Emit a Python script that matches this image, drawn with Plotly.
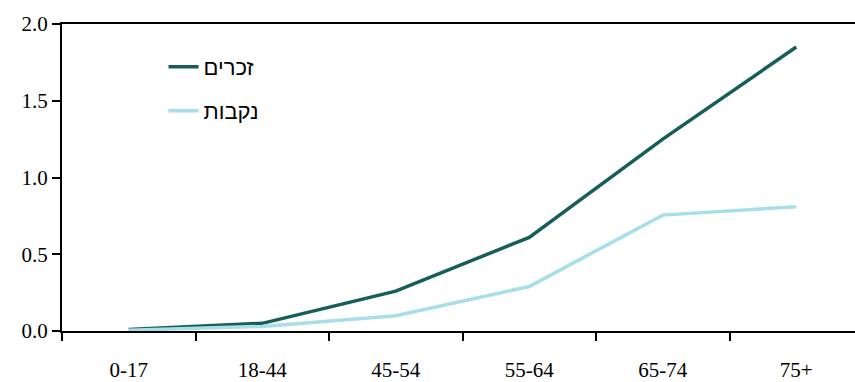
import plotly.graph_objects as go

categories = ["0-17", "18-44", "45-54", "55-64", "65-74", "75+"]
males = [0.01, 0.05, 0.26, 0.61, 1.25, 1.85]
females = [0.005, 0.03, 0.10, 0.29, 0.755, 0.81]
names = ["זכרים", "נקבות"]
y_ticks = [0.0, 0.5, 1.0, 1.5, 2.0]
y_labels = ["0.0", "0.5", "1.0", "1.5", "2.0"]

fig = go.Figure()
fig.add_trace(go.Scatter(x=categories, y=males, mode="lines", name=names[0],
                         line=dict(color="#175E58", width=3.5), legend="legend"))
fig.add_trace(go.Scatter(x=categories, y=females, mode="lines", name=names[1],
                         line=dict(color="#A8DEE7", width=3.5), legend="legend2"))

serif = "Liberation Serif, Times New Roman, serif"
legfont = dict(family="Liberation Sans, Arial, sans-serif", size=22, color="black")

fig.update_layout(
    width=855, height=382,
    margin=dict(l=62, r=0, t=24, b=51, autoexpand=False),
    paper_bgcolor="white", plot_bgcolor="white",
    font=dict(family=serif, size=21, color="black"),
    showlegend=True,
    legend=dict(x=0.128, y=0.86, xanchor="left", yanchor="middle", font=legfont,
                bgcolor="rgba(0,0,0,0)"),
    legend2=dict(x=0.128, y=0.717, xanchor="left", yanchor="middle", font=legfont,
                 bgcolor="rgba(0,0,0,0)"),
    xaxis=dict(type="category", range=[-0.5, 5.44], showgrid=False, zeroline=False,
               automargin=False,
               showline=True, linecolor="black", linewidth=2, mirror=True,
               ticks="outside", tickson="boundaries", ticklen=8, tickwidth=2,
               tickcolor="black", ticklabelstandoff=19,
               tickfont=dict(family=serif, size=21)),
    yaxis=dict(range=[0, 2.0], tickvals=y_ticks, ticktext=y_labels, showgrid=False,
               automargin=False,
               zeroline=False, showline=True, linecolor="black", linewidth=2,
               ticks="outside", ticklen=8, tickwidth=2, tickcolor="black",
               tickfont=dict(family=serif, size=21)),
)

fig.write_html("out.html", config={"displayModeBar": False},
               post_script="document.body.style.margin='0';document.body.style.overflow='hidden';")
